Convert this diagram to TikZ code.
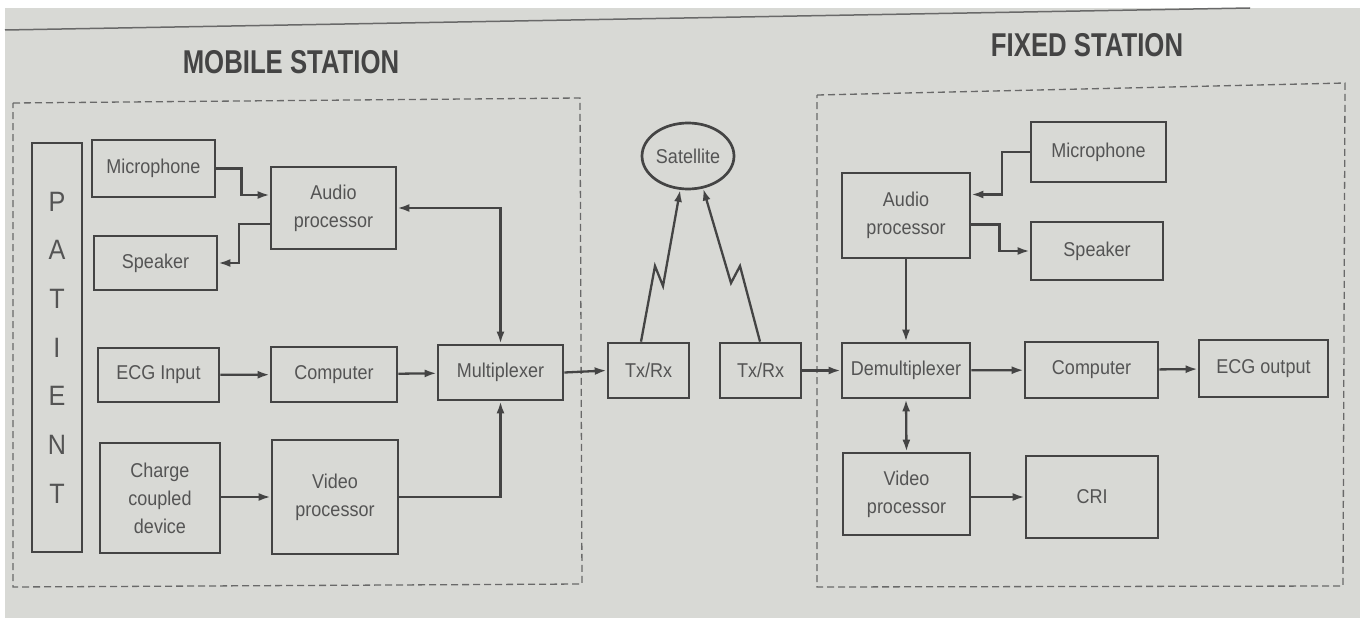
\documentclass[tikz,border=0pt]{standalone}
\usepackage{fontspec}
\setmainfont{Liberation Sans}[FakeStretch=0.9]
\newfontfamily\titlefont{Liberation Sans}[FakeStretch=0.78]
\usetikzlibrary{shapes.geometric,arrows.meta,calc}

\definecolor{paper}{RGB}{216,217,213}
\definecolor{ink}{RGB}{68,68,68}
\definecolor{txt}{RGB}{84,84,84}
\definecolor{dash}{RGB}{105,105,105}

\tikzset{
  tip/.tip={Latex[length=12pt,width=8pt]},
  blk/.style={draw=ink, line width=2.7pt, fill=paper, text=txt, align=center,
    inner sep=0pt, font=\fontsize{20}{28}\selectfont},
  conn/.style={draw=ink, line width=2.3pt, -tip},
  conn2/.style={draw=ink, line width=2.3pt, tip-tip},
  link/.style={draw=ink, line width=2.3pt, line join=miter},
  station/.style={draw=dash, line width=1.3pt, dash pattern=on 7pt off 4pt},
  stitle/.style={text=ink, font=\titlefont\bfseries\fontsize{33}{36}\selectfont},
}

\begin{document}
\begin{tikzpicture}[x=1pt,y=-1pt]
  % page
  \fill[paper] (0,0) rectangle (1360,618);
  \useasboundingbox (0,0) rectangle (1360,618);
  \fill[white] (0,0) rectangle (1360,8);
  \fill[white] (0,0) rectangle (5,618);
  \draw[ink!80, line width=1.5pt] (5,30) -- (1250,8);

  % titles
  \node[stitle] (tmob) at (291,62) {MOBILE STATION};
  \node[stitle] (tfix) at (1087,45) {FIXED STATION};

  % station frames
  \draw[station] (13,103) -- (580,98) -- (582,584) -- (13,587) -- cycle;
  \draw[station] (817,95) -- (1345,83) -- (1343,586) -- (817,587) -- cycle;

  % mobile station blocks
  \node[blk, minimum width=50pt, minimum height=409pt,
        font=\fontsize{28}{48.7}\selectfont] (pat) at (57,347.5) {P\\A\\T\\I\\E\\N\\T};
  \node[blk, minimum width=123pt, minimum height=57pt]  (mic1) at (153.5,168.5) {Microphone};
  \node[blk, minimum width=123pt, minimum height=54pt]  (spk1) at (155.5,263) {Speaker};
  \node[blk, minimum width=125pt, minimum height=82pt]  (aud1) at (333.5,208) {Audio\\processor};
  \node[blk, minimum width=121pt, minimum height=54pt]  (ecg)  at (158.5,375) {ECG Input};
  \node[blk, minimum width=126pt, minimum height=55pt]  (cmp1) at (334,374.5) {Computer};
  \node[blk, minimum width=125pt, minimum height=55pt]  (mux)  at (500.5,372.5) {Multiplexer};
  \node[blk, minimum width=120pt, minimum height=110pt] (ccd)  at (160,498) {Charge\\coupled\\device};
  \node[blk, minimum width=126pt, minimum height=114pt] (vid1) at (335,497) {Video\\processor};

  % link
  \node[blk, ellipse, minimum width=92pt, minimum height=66pt] (sat) at (688,156) {Satellite};
  \node[blk, minimum width=81pt, minimum height=55pt] (tx1) at (648.5,370.5) {Tx/Rx};
  \node[blk, minimum width=81pt, minimum height=55pt] (tx2) at (760.5,370.5) {Tx/Rx};

  % fixed station blocks
  \node[blk, minimum width=128pt, minimum height=85pt] (aud2)  at (906,215.5) {Audio\\processor};
  \node[blk, minimum width=135pt, minimum height=60pt] (mic2)  at (1098.5,152) {Microphone};
  \node[blk, minimum width=132pt, minimum height=58pt] (spk2)  at (1097,251) {Speaker};
  \node[blk, minimum width=128pt, minimum height=55pt] (demux) at (906,370.5) {Demultiplexer};
  \node[blk, minimum width=133pt, minimum height=56pt] (cmp2)  at (1091.5,370) {Computer};
  \node[blk, minimum width=129pt, minimum height=57pt] (ecgo)  at (1263.5,368.5) {ECG output};
  \node[blk, minimum width=127pt, minimum height=82pt] (vid2)  at (906.5,494) {Video\\processor};
  \node[blk, minimum width=132pt, minimum height=82pt] (cri)   at (1092,497) {CRI};

  % mobile station connections
  \draw[conn] (mic1.east) -- ++(25,0) |- ([yshift=13pt]aud1.west);
  \draw[conn] ([yshift=-16pt]aud1.west) -- ++(-31,0) |- (spk1.east);
  \draw[conn2] (aud1.east) -| (mux.north);
  \draw[conn] (ecg) -- (cmp1);
  \draw[conn] (cmp1) -- (mux);
  \draw[conn] (ccd.east |- vid1.east) -- (vid1.west);
  \draw[conn] (vid1.east) -| (mux.south);
  \draw[conn] (mux.east) -- (tx1.west);

  % radio hops via the satellite
  \draw[link, -tip]
    ([xshift=-7.5pt]tx1.north) -- (655,266) -- (663,286) -- (sat.257);
  \draw[link, -tip]
    ([xshift=-0.5pt]tx2.north) -- (740,266) -- (731,283) -- (sat.295);

  % fixed station connections
  \draw[conn] (tx2.east) -- (demux.west);
  \draw[conn] (mic2.west) -- ++(-28,0) |- ([yshift=21pt]aud2.east);
  \draw[conn] ([yshift=-9pt]aud2.east) -- ++(28,0) |- (spk2.west);
  \draw[conn] (aud2.south) -- (demux.north);
  \draw[conn] (demux) -- (cmp2);
  \draw[conn] (cmp2) -- (ecgo);
  \draw[conn2] (demux.south) -- (vid2.north);
  \draw[conn] (vid2.east |- cri.west) -- (cri.west);
\end{tikzpicture}
\end{document}
